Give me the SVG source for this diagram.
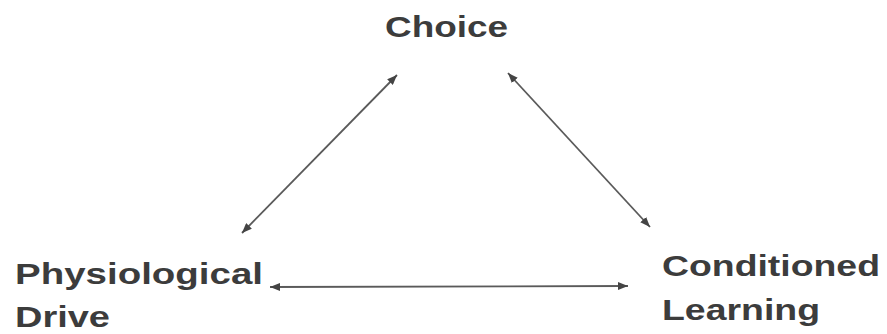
<svg xmlns="http://www.w3.org/2000/svg" width="887" height="334" viewBox="0 0 887 334">
<style>
.lbl{font-family:"Liberation Sans",Arial,sans-serif;font-weight:bold;font-size:29px;fill:#3c3c3c}
.conn{stroke:#5a5a5a;stroke-width:1.8;fill:none;marker-start:url(#ah);marker-end:url(#ah)}
</style>
<defs>
<marker id="ah" viewBox="0 0 10 8" refX="10" refY="4" markerWidth="10" markerHeight="8" markerUnits="userSpaceOnUse" orient="auto-start-reverse">
<path d="M0,0 L10,4 L0,8 Z" fill="#444"/>
</marker>
</defs>
<rect width="887" height="334" fill="#ffffff"/>
<g id="connectors">
<line class="conn" x1="242" y1="233" x2="397" y2="75"/>
<line class="conn" x1="508" y1="73" x2="650" y2="227"/>
<line class="conn" x1="270" y1="287" x2="628" y2="286"/>
</g>
<g id="choice">
<text class="lbl" x="385" y="37" textLength="123" lengthAdjust="spacingAndGlyphs">Choice</text>
</g>
<g id="physiological-drive">
<text class="lbl" x="15" y="284" textLength="248" lengthAdjust="spacingAndGlyphs">Physiological</text>
<text class="lbl" x="15" y="327" textLength="95" lengthAdjust="spacingAndGlyphs">Drive</text>
</g>
<g id="conditioned-learning">
<text class="lbl" x="662" y="276" textLength="218" lengthAdjust="spacingAndGlyphs">Conditioned</text>
<text class="lbl" x="662" y="320" textLength="158" lengthAdjust="spacingAndGlyphs">Learning</text>
</g>
</svg>
